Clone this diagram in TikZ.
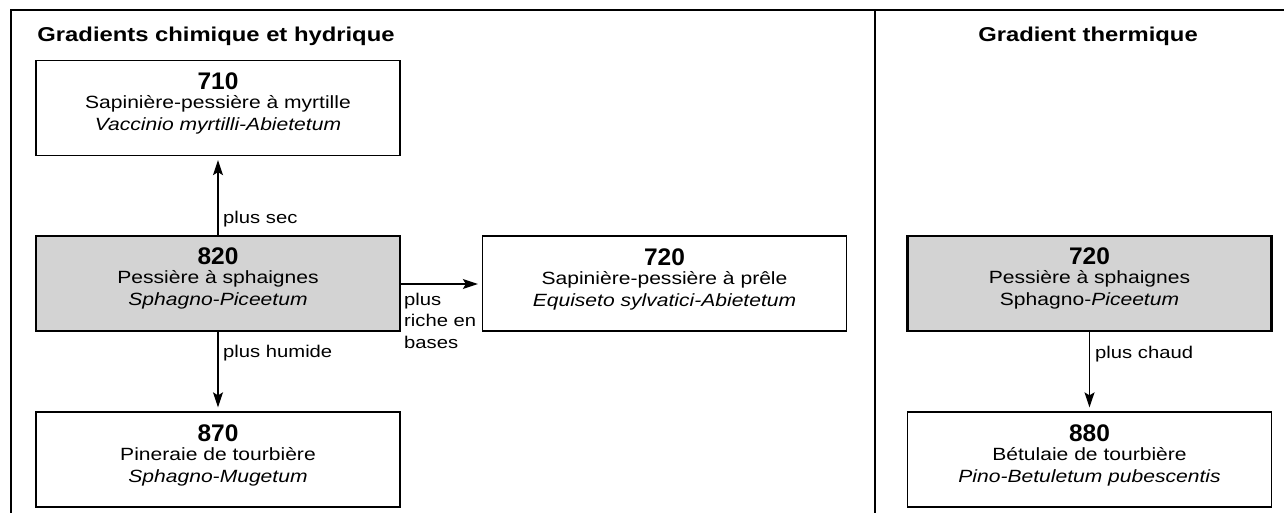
\documentclass[tikz,border=0pt]{standalone}
\usepackage{fontspec}
\setmainfont{Liberation Sans}[FakeStretch=1.19]
\newfontfamily\bodyfont{Liberation Sans}[FakeStretch=1.19]
\newfontfamily\numfont{Liberation Sans}[FakeStretch=1.02]
\usetikzlibrary{arrows.meta}
\definecolor{boxgray}{RGB}{211,211,211}
\tikzset{
  frameline/.style={line width=1.3pt, black},
  habbox/.style={draw, line width=1.3pt, minimum width=364pt, minimum height=95pt, inner sep=0pt},
  habgray/.style={habbox, fill=boxgray, line width=2.5pt},
  numtxt/.style={font={\numfont\bfseries\fontsize{24}{28}\selectfont}, inner sep=0pt, anchor=base},
  bodytxt/.style={font={\bodyfont\fontsize{17.7}{21}\selectfont}, inner sep=0pt, anchor=base},
  titletxt/.style={font={\bodyfont\bfseries\fontsize{20}{24}\selectfont}, inner sep=0pt, anchor=base},
  labtxt/.style={font={\bodyfont\fontsize{17}{21.5}\selectfont}, inner sep=0pt},
  gradarrow/.style={line width=1.3pt, -{Stealth[length=15pt,width=10pt,inset=3pt]}, shorten >=4pt}
}
\newcommand{\habitat}[7]{%
  \node[#4] (#1) at (#2,#3) {};
  \node[numtxt] (#1-n) at ([yshift=-30pt]#1.north) {#5};
  \node[bodytxt] (#1-a) at ([yshift=-48.7pt]#1.north) {#6};
  \node[bodytxt] (#1-b) at ([yshift=-70.7pt]#1.north) {#7};
}
\begin{document}
\begin{tikzpicture}[x=1pt,y=-1pt]
\useasboundingbox (0,0) rectangle (1284,513);
% frame
\coordinate (fbl) at (11,513);
\coordinate (ftl) at (11,10);
\coordinate (ftr) at (1284,10);
\coordinate (dtop) at (875,10);
\coordinate (dbot) at (875,513);
\draw[frameline] (fbl) -- (ftl) -- (ftr);
\draw[frameline] (dtop) -- (dbot);
% titles
\node[titletxt] (t1) at (216,41.7) {Gradients chimique et hydrique};
\node[titletxt] (t2) at (1088,41.7) {Gradient thermique};
% boxes
\habitat{n710}{218}{108}{habbox}{710}{Sapinière-pessière à myrtille}{\itshape Vaccinio myrtilli-Abietetum}
\habitat{n820}{218}{283.5}{habgray}{820}{Pessière à sphaignes}{\itshape Sphagno-Piceetum}
\habitat{n870}{218}{459.5}{habbox}{870}{Pineraie de tourbière}{\itshape Sphagno-Mugetum}
\habitat{n720a}{664.5}{283.5}{habbox}{720}{Sapinière-pessière à prêle}{\itshape Equiseto sylvatici-Abietetum}
\habitat{n720b}{1089.5}{283.5}{habgray}{720}{Pessière à sphaignes}{Sphagno-\textit{Piceetum}}
\habitat{n880}{1089.5}{459.5}{habbox}{880}{Bétulaie de tourbière}{\itshape Pino-Betuletum pubescentis}
% arrows
\draw[gradarrow] (n820.north) -- (n710.south);
\draw[gradarrow] (n820.south) -- (n870.north);
\draw[gradarrow] (n820.east |- 0,284) -- (n720a.west |- 0,284);
\draw[gradarrow] (n720b.south) -- (n880.north);
% labels
\node[labtxt, anchor=base west] (lsec) at (223,223.3) {plus sec};
\node[labtxt, anchor=base west] (lhum) at (223,357) {plus humide};
\node[labtxt, anchor=base west] (lcha) at (1095,358) {plus chaud};
\node[labtxt, anchor=north west, align=left] (lbas) at (404,292.6) {plus\\riche en\\bases};
\end{tikzpicture}
\end{document}
